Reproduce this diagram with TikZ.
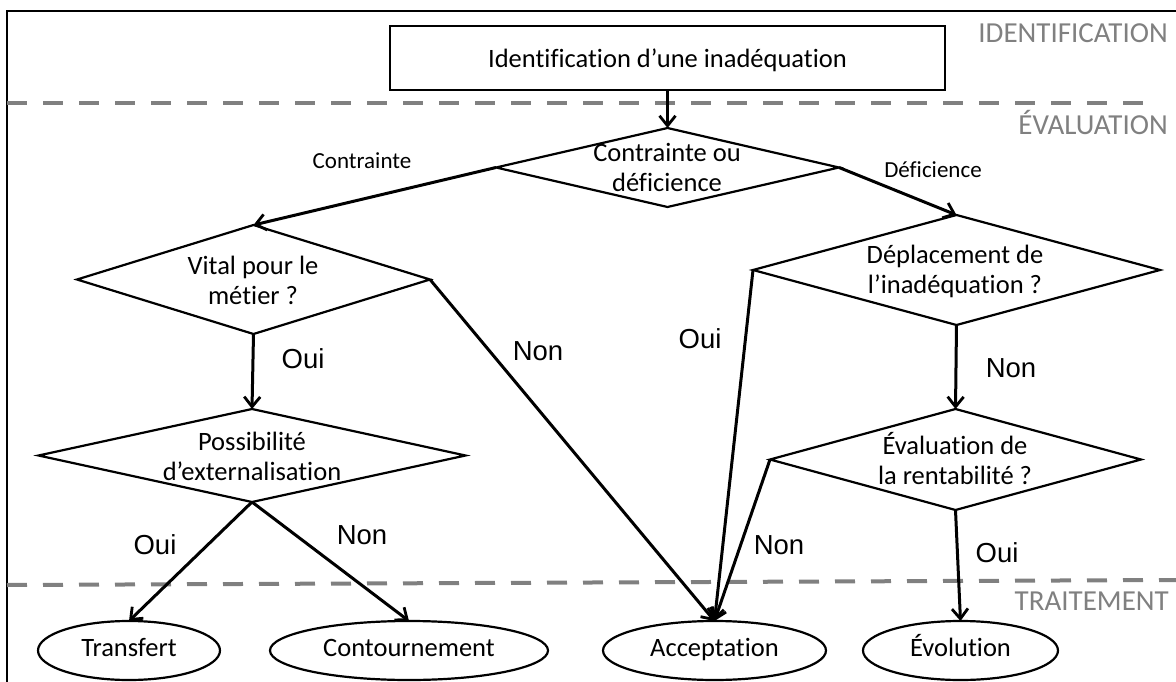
\documentclass[tikz,border=0pt]{standalone}
\usepackage{fontspec}
\setmainfont[Ligatures=NoCommon]{Carlito}
\newfontfamily\arialf{Liberation Sans}
\usetikzlibrary{arrows.meta,shapes.geometric}
\definecolor{sepgray}{RGB}{128,128,128}
\definecolor{phasegray}{RGB}{128,128,128}
\begin{document}
\begin{tikzpicture}[x=1pt,y=-1pt,
  dia/.style={draw,diamond,line width=2.2pt,inner sep=0pt,outer sep=0pt},
  ell/.style={draw,ellipse,line width=2.2pt,inner sep=0pt,outer sep=0pt,
    text height=17pt,text depth=5pt,font=\fontsize{26.5}{30}\selectfont},
  txt/.style={anchor=base,inner sep=0pt,font=\fontsize{26.5}{30}\selectfont},
  lab/.style={anchor=base,inner sep=0pt,font=\arialf\fontsize{27.5}{30}\selectfont},
  small/.style={anchor=base,inner sep=0pt,font=\fontsize{23}{27}\selectfont},
  phase/.style={anchor=base east,inner sep=0pt,text=phasegray,font=\fontsize{29}{32}\selectfont},
  sep/.style={draw=sepgray,line width=4pt,dash pattern=on 20pt off 16pt},
  arr/.style={-{Straight Barb[length=10pt,width=16pt,line width=2.8pt]},line width=3pt},
]
\useasboundingbox (0,0) rectangle (1176,682);
% frame
\draw[line width=2.6pt] (1176,11) -- (7,11) -- (7,682);
% separators
\draw[sep] (7,103) -- (1150,103);
\draw[sep] (7,585) -- (1176,580);
% phase labels
\node[phase] (pid) at (1168,43) {IDENTIFICATION};
\node[phase] (pev) at (1168,135) {ÉVALUATION};
\node[phase] (ptr) at (1169,610) {TRAITEMENT};
% top box
\node[draw,line width=2.6pt,minimum width=555pt,minimum height=64pt,inner sep=0pt,
  text height=25pt,text depth=5pt,font=\fontsize{26.5}{30}\selectfont]
  (box) at (667.5,58) {Identification d’une inadéquation};
% diamonds
\node[dia,minimum width=343pt,minimum height=79pt] (d1) at (667.5,167.5) {};
\node[txt] (d1a) at (667,162) {Contrainte ou};
\node[txt] (d1b) at (667,192) {déficience};
\node[dia,minimum width=353pt,minimum height=109pt] (d2) at (253.5,279.5) {};
\node[txt] (d2a) at (253,274) {Vital pour le};
\node[txt] (d2b) at (253,304) {métier ?};
\node[dia,minimum width=427pt,minimum height=93pt] (d3) at (252,455.5) {};
\node[txt] (d3a) at (252,450) {Possibilité};
\node[txt] (d3b) at (252,480) {d’externalisation};
\node[dia,minimum width=407pt,minimum height=110pt] (d4) at (956.5,270) {};
\node[txt] (d4a) at (955,263) {Déplacement de};
\node[txt] (d4b) at (955,293) {l’inadéquation ?};
\node[dia,minimum width=371pt,minimum height=101pt] (d5) at (955.5,459.5) {};
\node[txt] (d5a) at (955,454) {Évaluation de};
\node[txt] (d5b) at (955,484) {la rentabilité ?};
% ellipses
\node[ell,minimum width=182pt,minimum height=59pt] (tr) at (129,650.5) {Transfert};
\node[ell,minimum width=278pt,minimum height=59pt] (co) at (409,650.5) {Contournement};
\node[ell,minimum width=223pt,minimum height=59pt] (ac) at (714.5,650.5) {Acceptation};
\node[ell,minimum width=195pt,minimum height=59pt] (ev) at (960.5,650.5) {Évolution};
% connectors
\draw[arr] (box.south) -- (d1.north);
\draw[arr] (d1.west) -- (d2.north);
\draw[arr] (d1.east) -- (d4.north);
\draw[arr] (d2.south) -- (d3.north);
\draw[arr] (d2.east) -- (ac.north);
\draw[arr] (d3.south) -- (tr.north);
\draw[arr] (d3.south) -- (co.north);
\draw[arr] (d4.west) -- (ac.north);
\draw[arr] (d4.south) -- (d5.north);
\draw[arr] (d5.west) -- (ac.north);
\draw[arr] (d5.south) -- (ev.north);
% edge labels
\node[small] (lc) at (362,168) {Contrainte};
\node[small] (ld) at (933,178) {Déficience};
\node[lab] (l1) at (303,368) {Oui};
\node[lab] (l2) at (538,360) {Non};
\node[lab] (l3) at (155,554) {Oui};
\node[lab] (l4) at (362,544) {Non};
\node[lab] (l5) at (700,348) {Oui};
\node[lab] (l6) at (1011,377) {Non};
\node[lab] (l7) at (779,554) {Non};
\node[lab] (l8) at (997,562) {Oui};
\end{tikzpicture}
\end{document}
